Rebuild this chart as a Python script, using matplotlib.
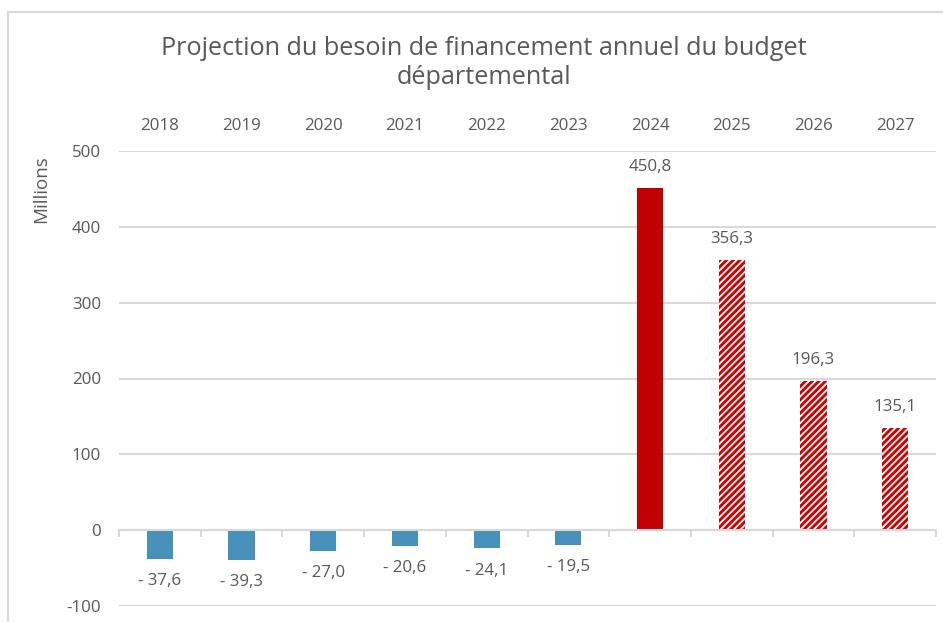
import matplotlib
matplotlib.use("Agg")
import matplotlib.pyplot as plt
from matplotlib.patches import Rectangle
import numpy as np

years = ["2018", "2019", "2020", "2021", "2022", "2023", "2024", "2025", "2026", "2027"]
values = [-37.6, -39.3, -27.0, -20.6, -24.1, -19.5, 450.8, 356.3, 196.3, 135.1]
kinds = ["realise"] * 6 + ["budget"] + ["projection"] * 3
labels = ["- 37,6", "- 39,3", "- 27,0", "- 20,6", "- 24,1", "- 19,5", "450,8", "356,3", "196,3", "135,1"]
yticks = [-100, 0, 100, 200, 300, 400, 500]

plt.rcParams['font.family'] = ['Open Sans', 'DejaVu Sans']
plt.rcParams['hatch.linewidth'] = 2.1
TXT = "#595959"
GRID = "#D9D9D9"
BLUE = "#4791BA"
RED = "#C00000"

fig = plt.figure(figsize=(9.43, 6.22), dpi=100)
fig.patches.append(Rectangle((8 / 943, -0.1), 1.2, 0.1 + 1 - 12 / 622, transform=fig.transFigure,
                             fill=False, edgecolor=GRID, linewidth=1.5))
ax = fig.add_axes([119 / 943, 1 - 606 / 622, 817 / 943, (606 - 151) / 622])

x = np.arange(len(years))
w = 0.32
for xi, v, k in zip(x, values, kinds):
    if k == "realise":
        ax.bar(xi, v, width=w, color=BLUE, zorder=3)
    elif k == "budget":
        ax.bar(xi, v, width=w, color=RED, zorder=3)
    else:
        ax.bar(xi, v, width=w, color="white", edgecolor="#D40000", hatch="/////", linewidth=0, zorder=3)

for xi, v, lab in zip(x, values, labels):
    off = 15 if v >= 0 else -16
    ax.annotate(lab, (xi, v), xytext=(0, off), textcoords="offset points",
                ha="center", va="center", fontsize=12.2, color=TXT)

ax.set_xlim(-0.5, len(years) - 0.5)
ax.set_ylim(-100, 500)
ax.set_yticks(yticks)
ax.set_yticklabels([str(t) for t in yticks])
ax.tick_params(axis="y", length=0, pad=13, labelsize=12.2, labelcolor=TXT)
ax.grid(axis="y", color=GRID, linewidth=1.5, zorder=0)
ax.set_axisbelow(True)
for s in ["left", "right", "top"]:
    ax.spines[s].set_visible(False)
ax.spines["bottom"].set_position(("data", 0))
ax.spines["bottom"].set_color(GRID)
ax.spines["bottom"].set_linewidth(1.5)
ax.spines["bottom"].set_zorder(4)
ax.set_xticks(x)
ax.set_xticks(np.arange(-0.5, len(years), 1.0), minor=True)
ax.tick_params(axis="x", which="major", length=0, labelbottom=False)
ax.tick_params(axis="x", which="minor", length=5, width=1.5, color=GRID, direction="out")

sec = ax.secondary_xaxis("top")
sec.set_xticks(x)
sec.set_xticklabels(years)
sec.tick_params(length=0, pad=12, labelsize=12.2, labelcolor=TXT)
sec.spines["top"].set_visible(False)

ax.set_ylabel("Millions", fontsize=13.5, color=TXT)
ax.yaxis.set_label_coords(-69 / 817, 1 - (189 - 151) / 455)

fig.text(484 / 943, 1 - 63 / 622, "Projection du besoin de financement annuel du budget\ndépartemental",
         ha="center", va="center", fontsize=18.2, color=TXT, linespacing=1.25)

fig.savefig("out.png", dpi=100)
